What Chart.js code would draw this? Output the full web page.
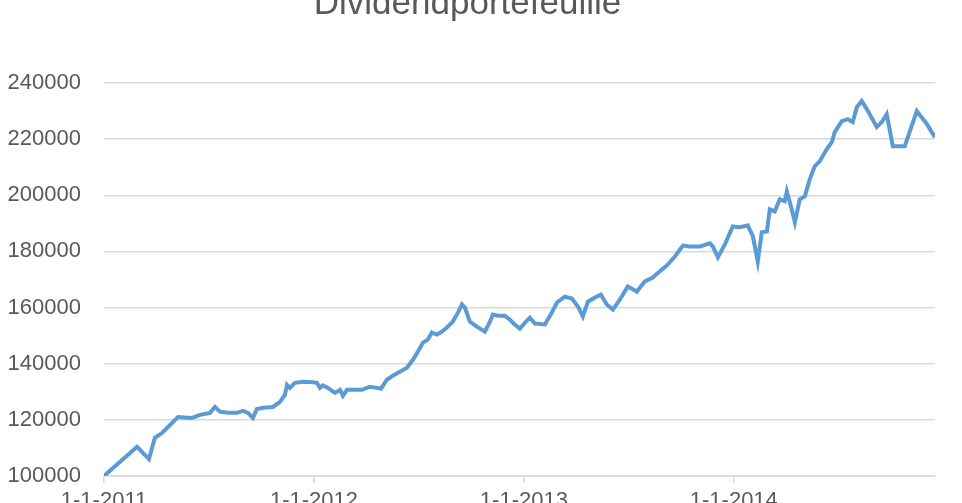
<!DOCTYPE html>
<html>
<head>
<meta charset="utf-8">
<script src="https://cdn.jsdelivr.net/npm/chart.js@4"></script>
<style>
  html, body { margin: 0; padding: 0; background: #fff; overflow: hidden; }
  #wrap { position: absolute; left: 0; top: -22px; width: 962px; height: 570px; }
</style>
</head>
<body>
<div id="wrap"><canvas id="chart" width="962" height="570"></canvas></div>
<script>
// months since 1-1-2011
const months = [0, 1.89, 2.57, 2.91, 3.31, 3.6, 4.23, 4.63, 5.03, 5.49, 6.06, 6.34, 6.63, 7.09, 7.6, 7.94, 8.23, 8.51, 8.74, 9.09,
  9.66, 10.06, 10.34, 10.46, 10.63, 10.91, 11.37, 11.77, 12.17, 12.34, 12.51, 12.8, 13.2, 13.49, 13.66, 13.89, 14.23, 14.74, 15.2, 15.6,
  15.83, 16.17, 16.51, 16.91, 17.31, 17.66, 17.94, 18.23, 18.51, 18.74, 19.03, 19.31, 19.6, 19.94, 20.23, 20.46, 20.63, 20.91, 21.31, 21.77,
  22.06, 22.23, 22.51, 22.91, 23.2, 23.49, 23.77, 24.06, 24.34, 24.63, 25.2, 25.6, 25.89, 26.34, 26.74, 27.09, 27.37, 27.66, 28.06, 28.4,
  28.74, 29.09, 29.49, 29.94, 30.46, 30.91, 31.37, 31.77, 32.17, 32.63, 33.09, 33.49, 34.06, 34.63, 34.8, 35.09, 35.49, 35.94, 36.34, 36.8,
  37.09, 37.37, 37.6, 37.89, 38.06, 38.34, 38.63, 38.91, 39.03, 39.31, 39.49, 39.77, 40.06, 40.34, 40.63, 40.91, 41.31, 41.6, 41.77, 42.17,
  42.51, 42.8, 43.03, 43.31, 43.6, 44.17, 44.46, 44.74, 45.09, 45.77, 46.46, 47.03, 47.49];
const values = [100000, 110400, 106000, 113600, 115300, 117100, 121000, 120800, 120700, 121800, 122500, 124600, 122900, 122500, 122500, 123200, 122500, 120700, 123900, 124300,
  124600, 126400, 128900, 132500, 131400, 133200, 133600, 133500, 133200, 131400, 132300, 131400, 129600, 130700, 128600, 130700, 130700, 130700, 131800, 131400,
  131100, 134300, 135700, 137100, 138600, 141400, 144300, 147500, 148600, 151100, 150400, 151400, 152900, 155000, 158200, 161100, 160000, 155000, 153200, 151400,
  155000, 157500, 157100, 157100, 155700, 153900, 152500, 154600, 156400, 154300, 154000, 158200, 161800, 163900, 163200, 160400, 156800, 162100, 163600, 164600,
  161100, 159300, 162900, 167500, 165700, 169300, 170700, 172900, 175000, 178200, 182100, 181800, 181800, 182900, 181800, 177900, 182500, 188900, 188600, 189300,
  185400, 176400, 186800, 187100, 195000, 194300, 198600, 197900, 201400, 195000, 190400, 198600, 199600, 205700, 210400, 212100, 216400, 218900, 222500, 226400,
  227100, 226100, 231400, 233600, 230700, 224300, 226100, 228900, 217500, 217500, 230000, 225400, 220700];
const xTicks = [0, 12, 24, 36];
const xTickLabels = ['1-1-2011', '1-1-2012', '1-1-2013', '1-1-2014'];
const titleText = 'Dividendportefeuille';

const points = months.map((m, i) => ({ x: m, y: values[i] }));
const grey = '#d9d9d9';
const textGrey = '#595959';

new Chart(document.getElementById('chart'), {
  type: 'line',
  data: {
    datasets: [{
      label: titleText,
      data: points,
      borderColor: '#5b9bd5',
      borderWidth: 4,
      pointRadius: 0,
      tension: 0,
      fill: false
    }]
  },
  options: {
    responsive: false,
    animation: false,
    layout: { padding: { left: 0, right: 27, top: 0, bottom: 32 } },
    plugins: {
      legend: { display: false },
      tooltip: { enabled: false },
      title: {
        display: true,
        text: titleText,
        color: textGrey,
        font: { family: 'Liberation Sans', size: 35, weight: 'normal' },
        padding: { top: 5, bottom: 58 }
      }
    },
    scales: {
      x: {
        type: 'linear',
        min: 0,
        max: 47.5,
        afterBuildTicks: axis => { axis.ticks = xTicks.map(v => ({ value: v })); },
        afterFit: axis => { axis.height = 40; },
        border: { display: true, color: grey, width: 1.5 },
        grid: { drawOnChartArea: false, drawTicks: true, tickLength: 7, color: grey, lineWidth: 1.5 },
        ticks: {
          color: textGrey,
          font: { family: 'Liberation Sans', size: 22 },
          padding: 5,
          maxRotation: 0,
          callback: v => xTickLabels[xTicks.indexOf(v)]
        }
      },
      y: {
        min: 100000,
        max: 240000,
        afterFit: axis => { axis.width = 104; },
        border: { display: false },
        grid: { color: grey, lineWidth: 1.5, drawTicks: false },
        ticks: {
          stepSize: 20000,
          color: textGrey,
          font: { family: 'Liberation Sans', size: 22 },
          padding: 23,
          callback: v => String(v)
        }
      }
    }
  }
});
</script>
</body>
</html>
